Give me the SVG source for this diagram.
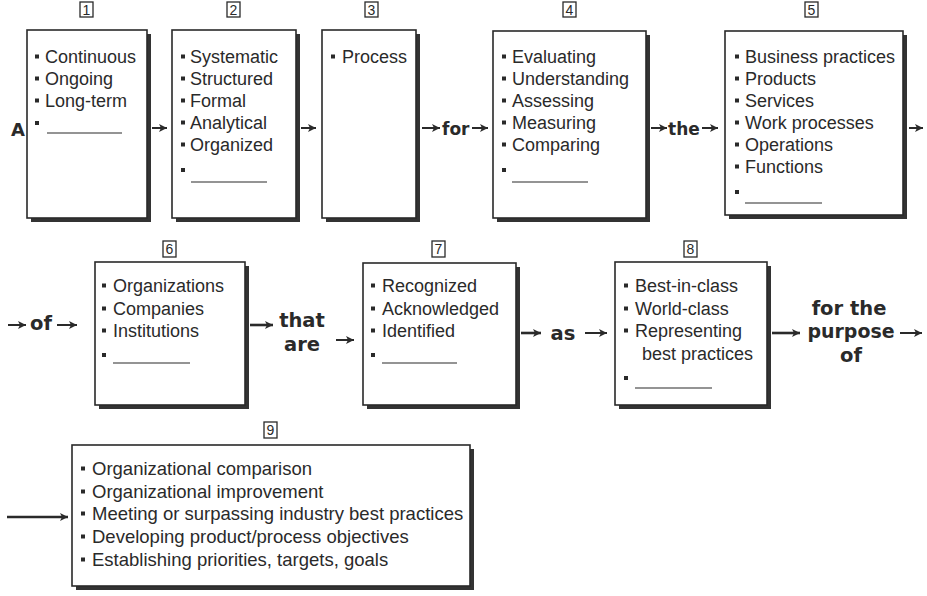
<svg xmlns="http://www.w3.org/2000/svg" width="927" height="596" viewBox="0 0 927 596">
<defs>
<style>
.shadow{fill:#333;}
.box{fill:#fff;stroke:#2a2a2a;stroke-width:1.6;}
.lbl{fill:#fff;stroke:#2a2a2a;stroke-width:1.3;}
.num{font-family:"Liberation Sans",Arial,sans-serif;font-size:14px;fill:#2a2a2a;text-anchor:middle;}
.t{font-family:"Liberation Sans",Arial,sans-serif;font-size:18px;fill:#2a2a2a;}
.t9{font-family:"Liberation Sans",Arial,sans-serif;font-size:18.5px;fill:#2a2a2a;}
.b{fill:#2a2a2a;}
.u{stroke:#2a2a2a;stroke-width:1.2;}
.w1{font-family:"DejaVu Sans",sans-serif;font-weight:bold;font-size:17px;fill:#2a2a2a;}
.w2{font-family:"DejaVu Sans",sans-serif;font-weight:bold;font-size:19.5px;fill:#2a2a2a;text-anchor:middle;}
.arr{stroke:#2a2a2a;stroke-width:2;fill:none;marker-end:url(#ah);}
.arr3{stroke:#2a2a2a;stroke-width:2.6;fill:none;marker-end:url(#ah);}
</style>
<marker id="ah" markerUnits="userSpaceOnUse" markerWidth="10" markerHeight="10" refX="8" refY="4" orient="auto">
<path d="M0,0 L8,4 L0,8 L2,4 z" fill="#2a2a2a"/>
</marker>
</defs>
<rect width="927" height="596" fill="#fff"/>

<!-- connector words -->
<text class="w1" x="11" y="136" style="font-size:18px">A</text>
<text class="w1" x="442" y="135">for</text>
<text class="w1" x="668" y="135">the</text>
<text class="w2" x="41" y="330">of</text>
<text class="w2" x="302" y="327">that</text>
<text class="w2" x="302" y="351">are</text>
<text class="w2" x="563" y="340">as</text>
<text class="w2" x="849" y="315">for the</text>
<text class="w2" x="851" y="338" textLength="87" lengthAdjust="spacingAndGlyphs">purpose</text>
<text class="w2" x="851" y="362">of</text>

<g id="connectors">
<line class="arr" x1="152" y1="128" x2="167" y2="128"/>
<line class="arr" x1="301" y1="128" x2="316" y2="128"/>
<line class="arr" x1="422" y1="128" x2="440" y2="128"/>
<line class="arr" x1="472" y1="128" x2="488" y2="128"/>
<line class="arr" x1="651" y1="128" x2="667" y2="128"/>
<line class="arr" x1="702" y1="128" x2="718" y2="128"/>
<line class="arr" x1="909" y1="128" x2="923" y2="128"/>
<line class="arr" x1="8" y1="325" x2="26" y2="325"/>
<line class="arr" x1="57" y1="325" x2="77" y2="325"/>
<line class="arr3" x1="250" y1="325" x2="273" y2="325"/>
<line class="arr" x1="336" y1="340" x2="354" y2="340"/>
<line class="arr3" x1="521" y1="333" x2="541" y2="333"/>
<line class="arr" x1="585" y1="333" x2="607" y2="333"/>
<line class="arr3" x1="772" y1="333" x2="800" y2="333"/>
<line class="arr" x1="900" y1="333" x2="922" y2="333"/>
<line class="arr3" x1="7" y1="517" x2="68" y2="517"/>
</g>

<g id="node1">
<rect class="shadow" x="31" y="34" width="120" height="188"/>
<rect class="box" x="27" y="30" width="120" height="188"/>
<rect class="lbl" x="80" y="2" width="13" height="15"/>
<text class="num" x="86.5" y="14.5">1</text>
<rect class="b" x="35" y="54.5" width="4" height="4"/><text class="t" x="45" y="63">Continuous</text>
<rect class="b" x="35" y="76.5" width="4" height="4"/><text class="t" x="45" y="85">Ongoing</text>
<rect class="b" x="35" y="98.5" width="4" height="4"/><text class="t" x="45" y="107">Long-term</text>
<rect class="b" x="35" y="121" width="4" height="4"/><line class="u" x1="47" y1="133" x2="122" y2="133"/>
</g>

<g id="node2">
<rect class="shadow" x="176" y="34" width="124" height="188"/>
<rect class="box" x="172" y="30" width="124" height="188"/>
<rect class="lbl" x="227" y="2" width="13" height="15"/>
<text class="num" x="233.5" y="14.5">2</text>
<rect class="b" x="181" y="54.5" width="4" height="4"/><text class="t" x="190" y="63">Systematic</text>
<rect class="b" x="181" y="76.5" width="4" height="4"/><text class="t" x="190" y="85">Structured</text>
<rect class="b" x="181" y="98.5" width="4" height="4"/><text class="t" x="190" y="107">Formal</text>
<rect class="b" x="181" y="120.5" width="4" height="4"/><text class="t" x="190" y="129">Analytical</text>
<rect class="b" x="181" y="142.5" width="4" height="4"/><text class="t" x="190" y="151">Organized</text>
<rect class="b" x="181" y="168" width="4" height="4"/><line class="u" x1="191" y1="182" x2="267" y2="182"/>
</g>

<g id="node3">
<rect class="shadow" x="326" y="34" width="94" height="188"/>
<rect class="box" x="322" y="30" width="94" height="188"/>
<rect class="lbl" x="365" y="2" width="13" height="15"/>
<text class="num" x="371.5" y="14.5">3</text>
<rect class="b" x="331" y="54.5" width="4" height="4"/><text class="t" x="342" y="63">Process</text>
</g>

<g id="node4">
<rect class="shadow" x="497" y="35" width="153" height="187"/>
<rect class="box" x="493" y="31" width="153" height="187"/>
<rect class="lbl" x="563" y="2" width="13" height="15"/>
<text class="num" x="569.5" y="14.5">4</text>
<rect class="b" x="502" y="54.5" width="4" height="4"/><text class="t" x="512" y="63">Evaluating</text>
<rect class="b" x="502" y="76.5" width="4" height="4"/><text class="t" x="512" y="85">Understanding</text>
<rect class="b" x="502" y="98.5" width="4" height="4"/><text class="t" x="512" y="107">Assessing</text>
<rect class="b" x="502" y="120.5" width="4" height="4"/><text class="t" x="512" y="129">Measuring</text>
<rect class="b" x="502" y="142.5" width="4" height="4"/><text class="t" x="512" y="151">Comparing</text>
<rect class="b" x="502" y="168" width="4" height="4"/><line class="u" x1="512" y1="182" x2="588" y2="182"/>
</g>

<g id="node5">
<rect class="shadow" x="729" y="35" width="178" height="184"/>
<rect class="box" x="725" y="31" width="178" height="184"/>
<rect class="lbl" x="805" y="2" width="13" height="15"/>
<text class="num" x="811.5" y="14.5">5</text>
<rect class="b" x="735" y="54.5" width="4" height="4"/><text class="t" x="745" y="63">Business practices</text>
<rect class="b" x="735" y="76.5" width="4" height="4"/><text class="t" x="745" y="85">Products</text>
<rect class="b" x="735" y="98.5" width="4" height="4"/><text class="t" x="745" y="107">Services</text>
<rect class="b" x="735" y="120.5" width="4" height="4"/><text class="t" x="745" y="129">Work processes</text>
<rect class="b" x="735" y="142.5" width="4" height="4"/><text class="t" x="745" y="151">Operations</text>
<rect class="b" x="735" y="164.5" width="4" height="4"/><text class="t" x="745" y="173">Functions</text>
<rect class="b" x="735" y="190" width="4" height="4"/><line class="u" x1="745" y1="203" x2="822" y2="203"/>
</g>

<g id="node6">
<rect class="shadow" x="99" y="266" width="150" height="143"/>
<rect class="box" x="95" y="262" width="150" height="143"/>
<rect class="lbl" x="163" y="241" width="13" height="16"/>
<text class="num" x="169.5" y="254">6</text>
<rect class="b" x="102" y="283.5" width="4" height="4"/><text class="t" x="113" y="292">Organizations</text>
<rect class="b" x="102" y="306.5" width="4" height="4"/><text class="t" x="113" y="315">Companies</text>
<rect class="b" x="102" y="328.5" width="4" height="4"/><text class="t" x="113" y="337">Institutions</text>
<rect class="b" x="102" y="353" width="4" height="4"/><line class="u" x1="113" y1="363" x2="190" y2="363"/>
</g>

<g id="node7">
<rect class="shadow" x="367" y="267" width="153" height="142"/>
<rect class="box" x="363" y="263" width="153" height="142"/>
<rect class="lbl" x="432" y="241" width="13" height="16"/>
<text class="num" x="438.5" y="254">7</text>
<rect class="b" x="371" y="283.5" width="4" height="4"/><text class="t" x="382" y="292">Recognized</text>
<rect class="b" x="371" y="306.5" width="4" height="4"/><text class="t" x="382" y="315">Acknowledged</text>
<rect class="b" x="371" y="328.5" width="4" height="4"/><text class="t" x="382" y="337">Identified</text>
<rect class="b" x="371" y="353" width="4" height="4"/><line class="u" x1="382" y1="363" x2="457" y2="363"/>
</g>

<g id="node8">
<rect class="shadow" x="619" y="266" width="152" height="143"/>
<rect class="box" x="615" y="262" width="152" height="143"/>
<rect class="lbl" x="684" y="241" width="13" height="16"/>
<text class="num" x="690.5" y="254">8</text>
<rect class="b" x="624" y="283.5" width="4" height="4"/><text class="t" x="635" y="292">Best-in-class</text>
<rect class="b" x="624" y="306.5" width="4" height="4"/><text class="t" x="635" y="315">World-class</text>
<rect class="b" x="624" y="328.5" width="4" height="4"/><text class="t" x="635" y="337">Representing</text>
<text class="t" x="642" y="360">best practices</text>
<rect class="b" x="624" y="376" width="4" height="4"/><line class="u" x1="635" y1="388" x2="712" y2="388"/>
</g>

<g id="node9">
<rect class="shadow" x="76" y="449" width="398" height="141"/>
<rect class="box" x="72" y="445" width="398" height="141"/>
<rect class="lbl" x="264" y="422" width="13" height="16"/>
<text class="num" x="270.5" y="435">9</text>
<rect class="b" x="81" y="466.5" width="4" height="4"/><text class="t9" x="92" y="475">Organizational comparison</text>
<rect class="b" x="81" y="489.5" width="4" height="4"/><text class="t9" x="92" y="498">Organizational improvement</text>
<rect class="b" x="81" y="511.5" width="4" height="4"/><text class="t9" x="92" y="520">Meeting or surpassing industry best practices</text>
<rect class="b" x="81" y="534.5" width="4" height="4"/><text class="t9" x="92" y="543">Developing product/process objectives</text>
<rect class="b" x="81" y="557.5" width="4" height="4"/><text class="t9" x="92" y="566">Establishing priorities, targets, goals</text>
</g>
</svg>
